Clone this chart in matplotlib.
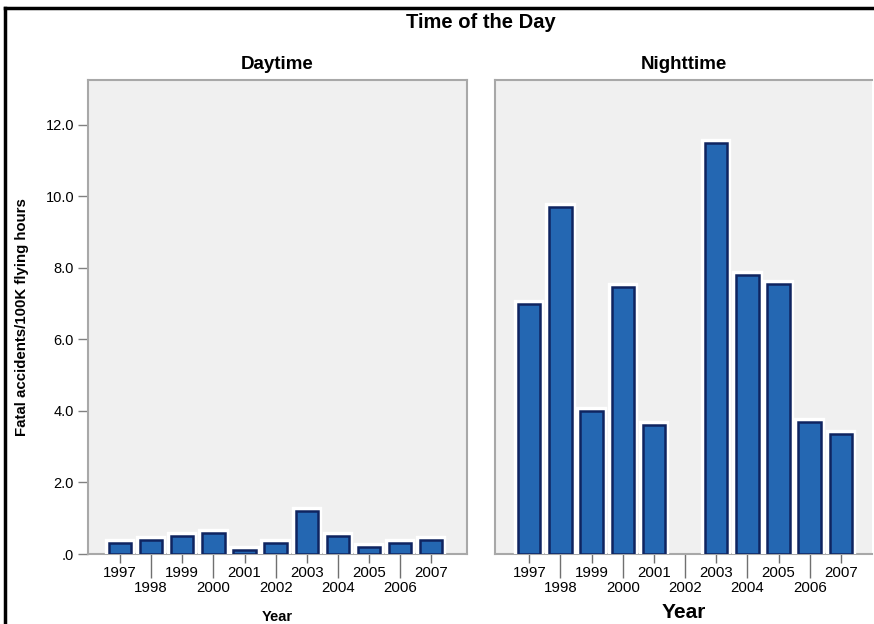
import numpy as np
import matplotlib
matplotlib.use("Agg")
import matplotlib.pyplot as plt
import matplotlib.patheffects as pe
from matplotlib.lines import Line2D

plt.rcParams['font.family'] = ['Liberation Sans', 'DejaVu Sans']

years = ['1997', '1998', '1999', '2000', '2001', '2002', '2003', '2004', '2005', '2006', '2007']
daytime = [0.3, 0.4, 0.5, 0.6, 0.1, 0.3, 1.2, 0.5, 0.2, 0.3, 0.4]
nighttime = [7.0, 9.7, 4.0, 7.45, 3.6, 0.0, 11.5, 7.8, 7.55, 3.7, 3.35]
yticks = [0, 2, 4, 6, 8, 10, 12]
ytick_labels = ['.0', '2.0', '4.0', '6.0', '8.0', '10.0', '12.0']

W, H = 874, 624
fig = plt.figure(figsize=(W / 100, H / 100), dpi=100)

def box(l, r, t, b):
    return [l / W, 1 - b / H, (r - l) / W, (b - t) / H]

ax1 = fig.add_axes(box(88, 467, 80, 554))
ax2 = fig.add_axes(box(495, 872, 80, 554))

bar_fx = [pe.Stroke(linewidth=6, foreground='white'), pe.Normal()]
spine_col = '#a8a8a8'

def style(ax, vals, xlim, ylabels):
    ax.set_facecolor('#f0f0f0')
    x = np.arange(len(vals))
    bars = ax.bar(x, vals, width=0.72, color='#2467b2', edgecolor='#0f2460', linewidth=1.8, zorder=3)
    for b, v in zip(bars, vals):
        b.set_path_effects(bar_fx)
        if v == 0:
            b.set_visible(False)
    ax.set_xlim(*xlim)
    ax.set_ylim(0, 13.25)
    # staggered year labels: odd positions lower with long ticks
    ax.set_xticks(x[::2])
    ax.set_xticklabels(years[::2])
    ax.set_xticks(x[1::2], minor=True)
    ax.set_xticklabels(years[1::2], minor=True)
    ax.tick_params(axis='x', which='major', length=6.5, width=1, color='#707070', pad=2, labelsize=10.8)
    ax.tick_params(axis='x', which='minor', length=17.5, width=1, color='#707070', pad=2, labelsize=10.8)
    for s in ax.spines.values():
        s.set_color(spine_col)
        s.set_linewidth(1.5)
    if ylabels:
        ax.set_yticks(yticks)
        ax.set_yticklabels(ytick_labels)
        ax.tick_params(axis='y', length=7, width=1, color='#808080', pad=3, labelsize=10.5)
    else:
        ax.set_yticks([])

style(ax1, daytime, (-1.03, 11.15), True)
style(ax2, nighttime, (-1.1, 11.0), False)
ax2.spines['right'].set_visible(False)

ax1.set_title('Daytime', fontsize=13.5, fontweight='bold', pad=8)
ax2.set_title('Nighttime', fontsize=13.5, fontweight='bold', pad=8)
ax1.set_ylabel('Fatal accidents/100K flying hours', fontsize=10.8, fontweight='bold', labelpad=12)
ax1.set_xlabel('Year', fontsize=10.5, fontweight='bold', labelpad=11)
ax2.set_xlabel('Year', fontsize=15, fontweight='bold', labelpad=6)

fig.text(481 / W, 1 - 22 / H, 'Time of the Day', ha='center', va='center', fontsize=14.5, fontweight='bold')

# outer frame (left and top)
fig.add_artist(Line2D([5 / W, 5 / W], [0, 1 - 8 / H], color='black', linewidth=2.5, transform=fig.transFigure))
fig.add_artist(Line2D([5 / W, 1], [1 - 8 / H, 1 - 8 / H], color='black', linewidth=2.5, transform=fig.transFigure))

fig.savefig('out.png', dpi=100)
